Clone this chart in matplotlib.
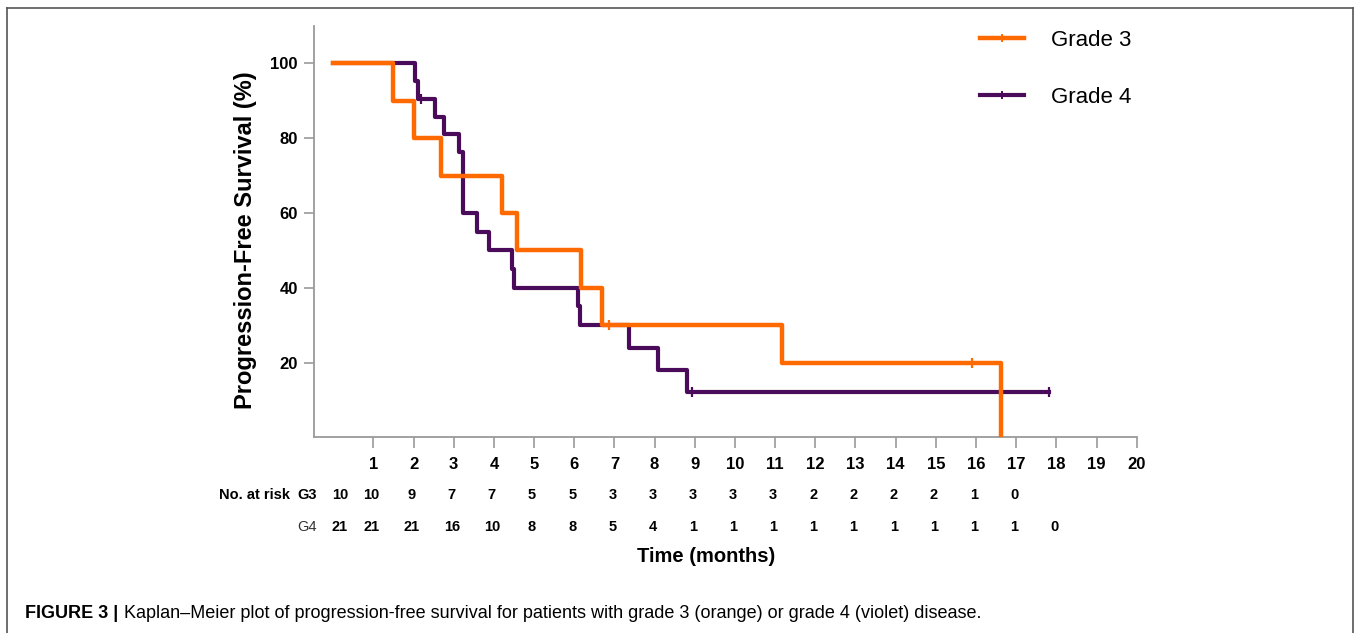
import numpy as np
import matplotlib
matplotlib.use('Agg')
import matplotlib.pyplot as plt
import matplotlib.transforms as mtransforms
from matplotlib.lines import Line2D

plt.rcParams['font.family'] = ['Liberation Sans', 'DejaVu Sans']

# ---------------------------------------------------------------------------
# data
# ---------------------------------------------------------------------------
g3_times = [0, 1.50, 2.00, 2.69, 4.21, 4.57, 6.16, 6.68, 11.16, 16.62]
g3_surv = [100, 90, 80, 70, 60, 50, 40, 30, 20, 0]
g3_cens_t = [6.87, 15.89]
g3_cens_s = [30, 20]

g4_times = [0, 2.04, 2.10, 2.54, 2.77, 3.12, 3.24, 3.57, 3.88, 4.46, 4.51,
            6.09, 6.14, 7.36, 8.09, 8.80, 17.82]
g4_surv = [100, 95.2, 90.5, 85.7, 81.0, 76.2, 60, 55, 50, 45, 40,
           35, 30, 24, 18, 12, 12]
g4_cens_t = [2.18, 8.94, 17.82]
g4_cens_s = [90.5, 12, 12]

xticks = list(range(1, 21))
yticks = [20, 40, 60, 80, 100]

risk_times_g3 = list(range(0, 18))
risk_g3 = [10, 10, 9, 7, 7, 5, 5, 3, 3, 3, 3, 3, 2, 2, 2, 2, 1, 0]
risk_times_g4 = list(range(0, 19))
risk_g4 = [21, 21, 21, 16, 10, 8, 8, 5, 4, 1, 1, 1, 1, 1, 1, 1, 1, 1, 0]

orange = '#ff6a00'
violet = '#4a0c5a'
axis_grey = '#9a9a9a'

W, H = 1355, 633
fig = plt.figure(figsize=(W / 100, H / 100), dpi=100)
ax = fig.add_axes([314.3 / W, 1 - 437.3 / H, 822.4 / W, 411.3 / H])

# curves (violet under orange)
ax.step(g4_times, g4_surv, where='post', color=violet, lw=3.0, zorder=3)
ax.plot(g4_cens_t, g4_cens_s, ls='none', marker='|', ms=7, mew=1.6,
        color=violet, zorder=3)
ax.step(g3_times, g3_surv, where='post', color=orange, lw=3.2, zorder=4)
ax.plot(g3_cens_t, g3_cens_s, ls='none', marker='|', ms=7, mew=1.6,
        color=orange, zorder=4)

ax.set_xlim(-0.47, 20)
ax.set_ylim(0, 110)
for s in ['top', 'right']:
    ax.spines[s].set_visible(False)
for s in ['left', 'bottom']:
    ax.spines[s].set_color(axis_grey)
    ax.spines[s].set_linewidth(1.3)

ax.set_xticks(xticks)
ax.set_xticklabels([str(t) for t in xticks], fontsize=12, fontweight='bold')
ax.set_yticks(yticks)
ax.set_yticklabels([str(t) for t in yticks], fontsize=12, fontweight='bold')
ax.tick_params(axis='x', length=8, width=1.2, color=axis_grey, pad=6)
ax.tick_params(axis='y', length=7, width=1.2, color=axis_grey, pad=5)

ax.set_ylabel('Progression-Free Survival (%)', fontsize=17,
              fontweight='bold')
ax.yaxis.set_label_coords(-0.070, 0.48)

# number at risk table
tr = mtransforms.blended_transform_factory(ax.transData, fig.transFigure)
y_g3 = 1 - 495 / H
y_g4 = 1 - 527 / H
for t, n in zip(risk_times_g3, risk_g3):
    xx = t + 0.17 if t == 0 else t - 0.05
    ax.text(xx, y_g3, str(n), transform=tr, ha='center', va='center',
            fontsize=10.5, fontweight='bold')
for t, n in zip(risk_times_g4, risk_g4):
    xx = t + 0.17 if t == 0 else t - 0.05
    ax.text(xx, y_g4, str(n), transform=tr, ha='center', va='center',
            fontsize=10.5, fontweight='bold')
fig.text(290 / W, y_g3, 'No. at risk', ha='right', va='center',
         fontsize=10.5, fontweight='bold')
fig.text(297 / W, y_g3, 'G3', ha='left', va='center',
         fontsize=10.5, fontweight='bold')
fig.text(297 / W, y_g4, 'G4', ha='left', va='center',
         fontsize=10.5, color='#333333')

fig.text(706 / W, 1 - 556 / H, 'Time (months)', ha='center', va='center',
         fontsize=14.5, fontweight='bold')

# legend
handles = [
    Line2D([], [], color=orange, lw=3.2, marker='|', ms=6, mew=1.4),
    Line2D([], [], color=violet, lw=3.0, marker='|', ms=6, mew=1.4),
]
fig.legend(handles, ['Grade 3', 'Grade 4'], loc='upper left',
           bbox_to_anchor=(980 / W, 1 - 30 / H), frameon=False,
           fontsize=16, handlelength=2.0, handletextpad=1.2,
           labelspacing=1.63, borderpad=0, borderaxespad=0)

# frame around the figure panel
fig.add_artist(Line2D([7 / W, 7 / W], [0, 1 - 8 / H], color='#555555',
                      lw=1.2, transform=fig.transFigure))
fig.add_artist(Line2D([1353 / W, 1353 / W], [0, 1 - 8 / H], color='#555555',
                      lw=1.2, transform=fig.transFigure))
fig.add_artist(Line2D([7 / W, 1353 / W], [1 - 8 / H, 1 - 8 / H],
                      color='#555555', lw=1.2, transform=fig.transFigure))

# caption
cap = fig.text(25 / W, 1 - 614 / H, 'FIGURE 3 |', ha='left', va='center',
               fontsize=13, fontweight='bold')
ax.annotate('Kaplan\u2013Meier plot of progression-free survival for patients '
            'with grade 3 (orange) or grade 4 (violet) disease.',
            xy=(1, 0.5), xycoords=cap, xytext=(4, 0),
            textcoords='offset points', ha='left', va='center', fontsize=13,
            annotation_clip=False)

fig.savefig('out.png', dpi=100)
